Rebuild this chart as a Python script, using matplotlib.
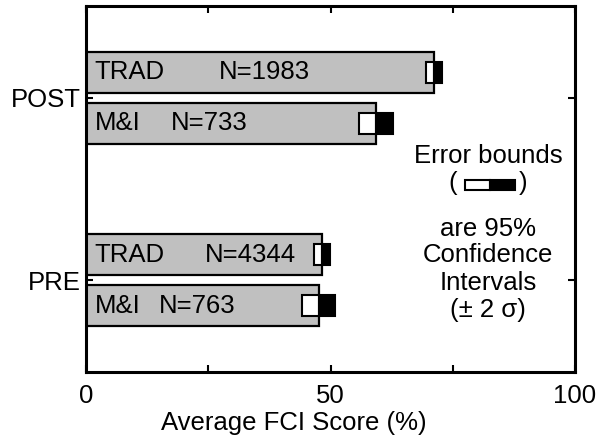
import matplotlib.pyplot as plt
from matplotlib.patches import Rectangle

plt.rcParams['font.family'] = ['Liberation Sans', 'DejaVu Sans']

groups = ['POST', 'PRE']
courses = ['TRAD', 'M&I']
means = [[71.2, 59.3], [48.2, 47.6]]
ci = [[1.6, 3.5], [1.6, 3.4]]
counts = [[1983, 733], [4344, 763]]
n_label_x = [[27.2, 17.4], [24.3, 14.9]]

note_lines = ['are 95%', 'Confidence', 'Intervals', '(\u00b1 2 \u03c3)']

fs = 18.5
fig = plt.figure(figsize=(5.99, 4.38), dpi=100)
ax = fig.add_axes([0.1436, 0.1507, 0.8164, 0.8356])

group_y = [1, 0]
offsets = [0.14, -0.14]
bar_h = 0.225
box_h = 0.115

for gi, gy in enumerate(group_y):
    for ci_i in range(2):
        y = gy + offsets[ci_i]
        m = means[gi][ci_i]
        e = ci[gi][ci_i]
        ax.barh(y, m, height=bar_h, color='#c0c0c0', edgecolor='black', linewidth=1.6, zorder=2)
        ax.add_patch(Rectangle((m - e, y - box_h / 2), e, box_h, facecolor='white',
                               edgecolor='black', linewidth=1.5, zorder=3))
        ax.add_patch(Rectangle((m, y - box_h / 2), e, box_h, facecolor='black',
                               edgecolor='black', linewidth=1.5, zorder=3))
        ax.text(1.8, y, courses[ci_i], fontsize=fs, va='center', ha='left', zorder=4)
        ax.text(n_label_x[gi][ci_i], y, 'N=%d' % counts[gi][ci_i], fontsize=fs,
                va='center', ha='left', zorder=4)

# explanation of the error boxes
ax.text(82.2, 0.681, 'Error bounds', fontsize=fs, ha='center', va='center')
ax.text(75.0, 0.533, '(', fontsize=fs, ha='center', va='center')
ax.text(89.4, 0.533, ')', fontsize=fs, ha='center', va='center')
ax.add_patch(Rectangle((77.5, 0.522 - 0.0275), 5.1, 0.055, facecolor='white',
                       edgecolor='black', linewidth=1.5))
ax.add_patch(Rectangle((82.6, 0.522 - 0.0275), 5.1, 0.055, facecolor='black',
                       edgecolor='black', linewidth=1.5))
for yy, line in zip([0.28, 0.137, -0.016, -0.165], note_lines):
    ax.text(82.2, yy, line, fontsize=fs, ha='center', va='center')

ax.set_xlim(0, 100)
ax.set_ylim(-0.505, 1.505)
ax.set_xticks([0, 25, 50, 75, 100])
ax.set_xticklabels(['0', '', '50', '', '100'])
ax.set_yticks(group_y)
ax.set_yticklabels(groups)
ax.tick_params(direction='in', length=5, width=1.5, labelsize=fs, pad=9,
               top=True, right=True)
ax.tick_params(axis='y', pad=4)
for s in ax.spines.values():
    s.set_linewidth(2.2)
ax.set_xlabel('Average FCI Score (%)', fontsize=fs, labelpad=2, x=0.425)

fig.savefig('out.png', dpi=100)
